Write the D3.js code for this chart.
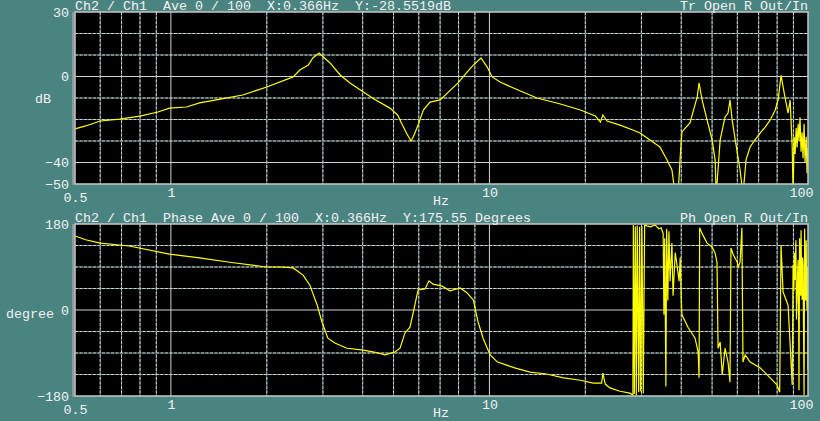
<!DOCTYPE html>
<html>
<head>
<meta charset="utf-8">
<script src="https://cdn.jsdelivr.net/npm/d3@7"></script>
<style>
  body { margin: 0; background: #4a8481; overflow: hidden; }
  svg text {
    font-family: "Liberation Mono", "DejaVu Sans Mono", monospace;
    font-size: 13.33px;
    fill: #f2f2f2;
    white-space: pre;
  }
</style>
</head>
<body>
<script>
// magnitude trace (Hz / dB)
const MAG_FREQ = [0.5, 0.54, 0.6, 0.69, 0.8, 0.91, 0.99, 1.12, 1.23, 1.43, 1.68, 2.0, 2.42, 2.54, 2.7, 2.79, 2.92, 3.16, 3.4, 3.65,
  4.02, 4.34, 4.87, 5.15, 5.33, 5.53, 5.68, 5.8, 5.97, 6.2, 6.51, 7.0, 7.97, 8.52, 8.9, 9.41, 9.84, 10.2, 10.8, 12.3,
  14.1, 16.7, 19.3, 21.5, 22.3, 22.7, 23.4, 25.7, 28.2, 29.7, 31.9, 34.3, 36.1, 37.4, 38.3, 39.1, 39.7, 40.2, 42.6, 44.9,
  45.5, 46.5, 48.2, 50.0, 51.1, 51.5, 53.0, 54.9, 56.1, 56.9, 57.8, 59.1, 61.2, 62.5, 63.9, 65.8, 68.2, 70.7, 73.4, 76.1,
  78.9, 80.6, 82.3, 84.2, 86.6, 87.9, 89.2, 89.8,
  90.5, 91.1, 91.8, 92.4, 93.1, 93.7, 94.4, 95.1, 95.8, 96.5, 97.2, 97.9, 98.7, 99.3, 100];
const MAG_DB = [-24.4, -23.0, -20.7, -19.8, -18.4, -16.5, -14.7, -14.2, -12.3, -10.5, -8.6, -4.9, -0.2, 3.0, 5.3, 8.6, 10.9, 6.3, 0.7, -3.0,
  -7.2, -10.5, -14.7, -17.9, -22.6, -27.2, -30.0, -27.2, -22.6, -15.6, -11.9, -10.9, -3.0, 2.1, 5.3, 8.6, 4.4, -0.2, -2.6, -6.3,
  -10.0, -12.8, -15.6, -18.4, -21.2, -17.9, -20.7, -22.6, -24.9, -26.3, -29.5, -32.8, -38.8, -43.5, -55, -55, -37.4, -25.8, -21.6, -9.5,
  -3.0, -10.9, -20.2, -29.5, -38.8, -55, -29.5, -18.8, -17.0, -10.9, -20.2, -29.5, -43.5, -55, -38.8, -32.8, -29.5, -26.3, -23.5, -20.2,
  -15.6, -10.9, 0.5, -7.7, -17.0, -10.9, -32.8, -55,
  -28, -36, -24, -33, -22, -30, -19, -35, -26, -38, -22, -40, -28, -45, -33];

// phase trace (Hz / degrees)
const PHASE_FREQ = [0.5, 0.54, 0.6, 0.74, 0.99, 1.23, 1.53, 1.99, 2.2, 2.42, 2.6, 2.73, 2.88, 2.98, 3.11, 3.27, 3.57, 4.02, 4.34, 4.7,
  5.05, 5.24, 5.43, 5.63, 5.77, 5.97, 6.28, 6.46, 6.65, 7.1, 7.52, 8.09, 8.5, 8.9, 9.21, 9.55, 10.05, 10.6, 12.0, 13.4,
  15.1, 17.1, 19.3, 21.2, 22.5, 22.7, 23.1, 23.9, 25.7, 27.6,
  28.2, 28.3, 28.5, 28.7, 28.9, 29.1, 29.4, 29.6, 29.8, 30.1, 30.4, 30.7, 31.2, 32.0, 33.1, 34.0, 34.6, 35.1, 35.3, 35.5,
  35.8, 36.0, 36.3, 36.6, 36.9, 37.4, 37.7, 38.3, 38.8, 39.4, 39.7, 40.0, 40.2, 42.0, 44.2, 45.2, 45.5, 45.7, 46.5, 47.1,
  48.2, 50.0, 51.1, 51.8, 52.2, 53.0, 53.8, 54.9, 56.1, 56.9, 57.3, 58.3, 60.0, 60.4, 61.2, 62.0, 62.5, 63.5, 65.8, 70.7,
  76.1, 80.0, 81.5, 82.3, 83.5, 86.6, 89.2, 89.8,
  90.3, 90.7, 91.1, 91.6, 92.0, 92.4, 92.8, 93.1, 93.4, 93.7, 94.1, 94.4, 94.8, 95.1, 95.5, 95.8, 96.2, 96.5, 96.8, 97.2,
  97.6, 98.0, 98.3, 98.7, 99.0, 99.3, 99.7, 100];
const PHASE_DEG = [155, 147, 140, 134, 117, 109, 100, 90, 90, 88, 73, 52, 10, -25, -59, -69, -80, -84, -88, -94,
  -88, -80, -48, -36, -4, 42, 44, 61, 54, 50, 40, 46, 36, 21, -25, -59, -94, -109, -121, -130,
  -134, -142, -147, -153, -153, -132, -155, -163, -170, -174,
  -178, 178, -176, 175, -179, 177, -172, 174, -170, 176, -175, 178, 176, 174, 178, 170, 172, 160, -10, 150,
  -160, 170, 20, 165, 60, 140, 30, 120, 94, 60, 110, 25, -10, -36, -59, -88, -142, 172, 160, 153,
  140, 132, 119, 100, -80, -67, -136, -80, -109, -151, 130, 115, 100, 90, 100, 172, -109, -94, -109, -121,
  -142, -157, -172, 136, 38, 10, -157, 94,
  40, 120, 63, 146, -20, 21, 80, 105, 10, -168, 150, 84, 30, 167, 60, 21, 110, 94, -30, -178,
  170, 63, 20, 146, 50, 0, 90, -126];

// axes / grid
const FREQ_TICKS = [0.5, 1, 10, 100];
const FREQ_GRID = [0.6, 0.7, 0.8, 0.9, 1, 2, 3, 4, 5, 6, 7, 8, 9, 10, 20, 30, 40, 50, 60, 70, 80, 90];
const FREQ_SOLID = [1, 10];
const DB_TICKS = [30, 0, -40, -50];
const DB_GRID = [20, 10, 0, -10, -20, -30, -40];
const DB_SOLID = [0, -40];
const DEG_TICKS = [180, 0, -180];
const DEG_GRID = [135, 90, 45, 0, -45, -90, -135];
const DEG_SOLID = [0];

const TOP_HEADER = "Ch2 / Ch1  Ave 0 / 100  X:0.366Hz  Y:-28.5519dB";
const TOP_MODE = "Tr Open R Out/In";
const BOT_HEADER = "Ch2 / Ch1  Phase Ave 0 / 100  X:0.366Hz  Y:175.55 Degrees";
const BOT_MODE = "Ph Open R Out/In";

const width = 820, height = 421;
const left = 75, right = 808;

const svg = d3.select("body").append("svg")
  .attr("width", width)
  .attr("height", height);

const x = d3.scaleLog().domain([0.5, 100]).range([left, right]);

function drawPanel(p) {
  const y = d3.scaleLinear().domain(p.domain).range([p.bottom, p.top]);
  const g = svg.append("g");

  g.append("rect")
    .attr("x", left).attr("y", p.top)
    .attr("width", right - left).attr("height", p.bottom - p.top)
    .attr("fill", "#000");

  // grid: dashed lines sit on a dim teal line so the gaps are not black
  const hg = g.selectAll(".hg").data(p.grid).join("g");
  hg.filter(d => !p.solid.includes(d)).append("line")
    .attr("x1", left).attr("x2", right)
    .attr("y1", d => y(d)).attr("y2", d => y(d))
    .attr("stroke", "#4f7a77");
  hg.append("line")
    .attr("x1", left).attr("x2", right)
    .attr("y1", d => y(d)).attr("y2", d => y(d))
    .attr("stroke", "#d2d2d2")
    .attr("stroke-dasharray", d => p.solid.includes(d) ? null : "3,1.5");

  const vg = g.selectAll(".vg").data(FREQ_GRID).join("g");
  vg.filter(d => !FREQ_SOLID.includes(d)).append("line")
    .attr("x1", d => x(d)).attr("x2", d => x(d))
    .attr("y1", p.top).attr("y2", p.bottom)
    .attr("stroke", "#4f7a77");
  vg.append("line")
    .attr("x1", d => x(d)).attr("x2", d => x(d))
    .attr("y1", p.top).attr("y2", p.bottom)
    .attr("stroke", "#d2d2d2")
    .attr("stroke-dasharray", d => FREQ_SOLID.includes(d) ? null : "3,1.5");

  const clipId = "clip" + p.top;
  svg.append("clipPath").attr("id", clipId).append("rect")
    .attr("x", left).attr("y", p.top)
    .attr("width", right - left).attr("height", p.bottom - p.top);

  const pts = p.freq.map((f, i) => [f, p.vals[i]]);
  g.append("path")
    .datum(pts)
    .attr("clip-path", `url(#${clipId})`)
    .attr("fill", "none")
    .attr("stroke", "#ffff00")
    .attr("stroke-width", 1.2)
    .attr("d", d3.line().x(d => x(d[0])).y(d => y(d[1])));

  // frame
  g.append("rect")
    .attr("x", left).attr("y", p.top)
    .attr("width", right - left).attr("height", p.bottom - p.top)
    .attr("fill", "none")
    .attr("stroke", "#c8c8c8")
    .attr("stroke-width", 1.5);
  g.append("line")
    .attr("x1", left - 2).attr("x2", left - 2)
    .attr("y1", p.top).attr("y2", p.bottom + 1)
    .attr("stroke", "#8c9a99").attr("stroke-width", 2);

  // y labels
  g.append("g")
    .attr("transform", `translate(${left},0)`)
    .call(d3.axisLeft(y).tickValues(p.ticks).tickSize(0).tickPadding(6))
    .call(a => a.select(".domain").remove());

  // x labels
  const xa = g.append("g")
    .attr("transform", `translate(0,${p.bottom})`)
    .call(d3.axisBottom(x).tickValues(FREQ_TICKS).tickFormat(d => d).tickSize(0).tickPadding(4))
    .call(a => a.select(".domain").remove());
  xa.selectAll(".tick text")
    .attr("transform", d => d === 0.5 ? "translate(0,5)" : d === 100 ? "translate(-7,0)" : null);

  svg.append("text").attr("x", 441).attr("y", p.bottom + 21)
    .attr("text-anchor", "middle").text("Hz");

  svg.append("text").attr("x", left).attr("y", p.top - 2).text(p.header);
  svg.append("text").attr("x", right).attr("y", p.top - 2)
    .attr("text-anchor", "end").text(p.mode);
  svg.append("text").attr("x", p.unitX).attr("y", p.unitY).text(p.unit);
}

drawPanel({
  top: 12, bottom: 184, domain: [-50, 30],
  grid: DB_GRID, solid: DB_SOLID, ticks: DB_TICKS,
  freq: MAG_FREQ, vals: MAG_DB,
  header: TOP_HEADER, mode: TOP_MODE,
  unit: "dB", unitX: 35, unitY: 103
});

drawPanel({
  top: 224, bottom: 396, domain: [-180, 180],
  grid: DEG_GRID, solid: DEG_SOLID, ticks: DEG_TICKS,
  freq: PHASE_FREQ, vals: PHASE_DEG,
  header: BOT_HEADER, mode: BOT_MODE,
  unit: "degree", unitX: 6, unitY: 318
});
</script>
</body>
</html>
